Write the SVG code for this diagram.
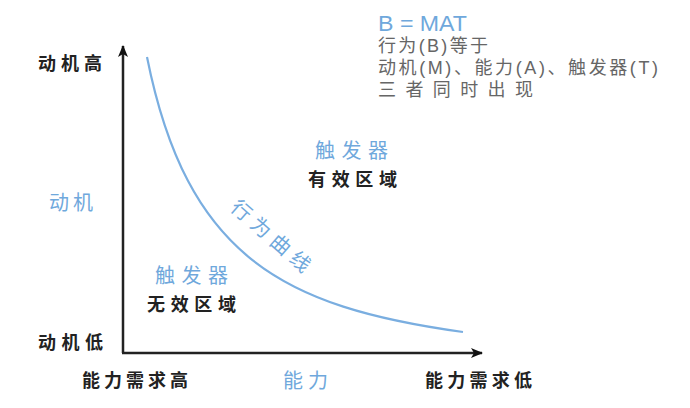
<svg xmlns="http://www.w3.org/2000/svg" width="690" height="408" viewBox="0 0 690 408">
<defs>
<style>
.lbl{font-family:"Noto Sans CJK SC",sans-serif;font-weight:bold;fill:#222;font-size:18px}
.blue{font-family:"Noto Sans CJK SC",sans-serif;fill:#6fa8dc;font-size:20px}
.note{font-family:"Liberation Sans","Noto Sans CJK SC",sans-serif;fill:#666;font-size:18px}
.axis{stroke:#222;stroke-width:2.5;fill:none}
.curve{stroke:#7aaee0;stroke-width:2.2;fill:none}
</style>
<marker id="arr" viewBox="0 0 12 10" refX="11" refY="5" markerWidth="12" markerHeight="10" markerUnits="userSpaceOnUse" orient="auto">
<path d="M0,0 L12,5 L0,10 L3,5 Z" fill="#111"/>
</marker>
</defs>
<rect width="690" height="408" fill="#fff"/>
<g id="connectors">
<path class="axis" d="M123,353 L123,46" marker-end="url(#arr)"/>
<path class="axis" d="M122,353 L482,353" marker-end="url(#arr)"/>
<path id="behavior-curve" class="curve" d="M147,57 C187,257 283,307 463,332"/>
</g>
<g id="y-axis-labels">
<text class="lbl" x="38" y="70" textLength="64" lengthAdjust="spacing">动机高</text>
<text class="blue" x="49" y="210" font-size="21" textLength="44" lengthAdjust="spacing">动机</text>
<text class="lbl" x="38" y="349" textLength="65" lengthAdjust="spacing">动机低</text>
</g>
<g id="x-axis-labels">
<text class="lbl" x="82" y="387" textLength="106" lengthAdjust="spacing">能力需求高</text>
<text class="blue" x="283" y="388" font-size="21" textLength="45" lengthAdjust="spacing">能力</text>
<text class="lbl" x="425" y="387" textLength="107" lengthAdjust="spacing">能力需求低</text>
</g>
<g id="invalid-zone">
<text class="blue" x="155" y="283" textLength="73" lengthAdjust="spacing">触发器</text>
<text class="lbl" x="147" y="311" textLength="89" lengthAdjust="spacing">无效区域</text>
</g>
<g id="valid-zone">
<text class="blue" x="315" y="158" textLength="73" lengthAdjust="spacing">触发器</text>
<text class="lbl" x="308" y="186" textLength="89" lengthAdjust="spacing">有效区域</text>
</g>
<g id="curve-label">
<text class="blue" x="274" y="237" text-anchor="middle" dominant-baseline="central" font-size="19" letter-spacing="6" transform="rotate(41 274 237)">行为曲线</text>
</g>
<g id="formula">
<text x="378" y="31" font-family="Liberation Sans, sans-serif" font-size="22" fill="#6fa8dc" textLength="89" lengthAdjust="spacingAndGlyphs">B = MAT</text>
<text class="note" x="378" y="52" textLength="110" lengthAdjust="spacing">行为(B)等于</text>
<text class="note" x="378" y="74" textLength="280" lengthAdjust="spacing">动机(M)、能力(A)、触发器(T)</text>
<text class="note" x="378" y="96" textLength="155" lengthAdjust="spacing">三者同时出现</text>
</g>
</svg>
